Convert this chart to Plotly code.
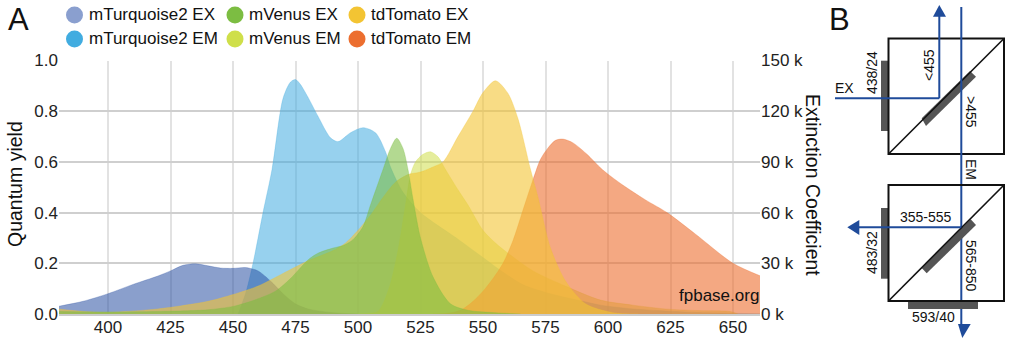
import plotly.graph_objects as go

W, H = 1011, 339
FONT = "Liberation Sans, Arial, sans-serif"

# Emission curves: quantum yield scale
mt2_em_x = [452,455,458,462,465.6,470,473,475,477,480,484,489,492,497,502,507,511,513,518,525,540,549,558,566,575,583,590,597,610,623,635,649,661]
mt2_em_y = [0,0.08,0.2,0.4,0.57,0.85,0.915,0.925,0.905,0.855,0.78,0.695,0.68,0.715,0.735,0.715,0.64,0.58,0.48,0.4,0.295,0.23,0.165,0.115,0.085,0.065,0.05,0.035,0.02,0.012,0.006,0.003,0.001]

venus_em_x = [500,505,508,510,513,516,519,521,523,526,529,532,535,540,544,550,555,560,570,583,597,610,623,635,649,652]
venus_em_y = [0,0.003,0.01,0.04,0.12,0.25,0.43,0.55,0.6,0.63,0.64,0.62,0.57,0.49,0.43,0.33,0.28,0.24,0.17,0.11,0.055,0.035,0.02,0.014,0.01,0]

tomato_em_x = [530,535,538,542,546,550,554,558,562,566,570,573,576,579,582,586,591.6,597.7,605,615,623.6,635,650,661]
tomato_em_y = [0,0.002,0.006,0.02,0.05,0.09,0.14,0.2,0.29,0.41,0.53,0.61,0.655,0.685,0.69,0.675,0.63,0.57,0.515,0.45,0.4,0.315,0.2,0.15]

# Excitation curves: extinction coefficient scale
mt2_ex_x = [380,390,400,410,420,425,430,435,440,445,450,455,460,465,470,475,480,490,500]
mt2_ex_y = [4500,7500,12000,17500,22500,25500,28800,29700,28500,27200,27000,27500,25500,19500,12000,6000,3000,750,0]

venus_ex_x = [380,400,420,440,450,455,460,467,473,480,484,490,494,498,502,505,510,513,515.5,518,520,522,525,530,537,544,555,565]
venus_ex_y = [1500,1200,1500,2500,4500,6500,9000,13500,21000,32000,36000,39000,40500,44000,51750,64500,85500,98000,104000,98000,85500,68000,45000,22000,6000,2200,750,0]

tomato_ex_x = [380,390,400,420,440,450,460,470,480,490,495,500,505,510,515,520,525,530,534,540,546,550,555,560,564,569,572,577,583,591,602,612]
tomato_ex_y = [3000,1500,1000,3000,7500,11500,16500,24000,31500,37500,42000,49500,58500,69000,78000,82500,84000,87000,90000,105000,120000,131000,138000,130500,115500,85500,69000,39000,19500,6000,750,0]

legend_names = ["mTurquoise2 EX","mTurquoise2 EM","mVenus EX","mVenus EM","tdTomato EX","tdTomato EM"]
legend_dots = ["#8a9fcf","#41ace0","#7cbd42","#cfdf4a","#f3c433","#ec6e2f"]
fills = ["rgba(42,80,162,0.55)","rgba(65,172,224,0.55)","rgba(124,189,66,0.58)","rgba(207,223,74,0.55)","rgba(243,196,51,0.6)","rgba(236,110,47,0.6)"]
x_ticks = [400,425,450,475,500,525,550,575,600,625,650]
qy_ticks = [0,0.2,0.4,0.6,0.8,1.0]
ec_ticks = [0,30000,60000,90000,120000,150000]
ec_labels = ["0 k","30 k","60 k","90 k","120 k","150 k"]

fig = go.Figure()

def area(x, y, i, axis):
    fig.add_trace(go.Scatter(x=x, y=y, yaxis=axis, mode="lines", name=legend_names[i],
                             fill="tozeroy", fillcolor=fills[i], showlegend=False, hoverinfo="skip",
                             line=dict(color=fills[i], width=0.5, shape="spline", smoothing=0.8)))

area(mt2_em_x, mt2_em_y, 1, "y")
area(venus_em_x, venus_em_y, 3, "y")
area(tomato_em_x, tomato_em_y, 5, "y")
area(mt2_ex_x, mt2_ex_y, 0, "y2")
area(tomato_ex_x, tomato_ex_y, 4, "y2")
area(venus_ex_x, venus_ex_y, 2, "y2")

def px(x): return x / W
def py(y): return 1 - y / H

shapes, notes = [], []
def text(x, y, s, size=14, angle=0, anchor="center"):
    notes.append(dict(x=px(x), y=py(y), xref="paper", yref="paper", text=s, showarrow=False,
                      textangle=angle, xanchor=anchor, yanchor="middle",
                      font=dict(family=FONT, size=size, color="#111")))
def seg(x0, y0, x1, y1, color="#1f4b9a", w=2):
    shapes.append(dict(type="line", xref="paper", yref="paper", x0=px(x0), y0=py(y0), x1=px(x1), y1=py(y1),
                       line=dict(color=color, width=w), layer="above"))
def rect(x0, y0, x1, y1, fill=None, line=None, w=0):
    shapes.append(dict(type="rect", xref="paper", yref="paper", x0=px(x0), y0=py(y0), x1=px(x1), y1=py(y1),
                       fillcolor=fill or "rgba(0,0,0,0)", line=dict(color=line or "rgba(0,0,0,0)", width=w), layer="above"))
def poly(pts, fill):
    d = "M " + " L ".join(f"{px(a):.5f},{py(b):.5f}" for a, b in pts) + " Z"
    shapes.append(dict(type="path", xref="paper", yref="paper", path=d, fillcolor=fill, line=dict(width=0), layer="above"))

# legend
cols = [(74.5, 86.5), (235, 247), (357, 369)]
rows = [15, 39]
for i, name in enumerate(legend_names):
    dx, tx = cols[i // 2]
    y = rows[i % 2]
    r = 8.5
    shapes.append(dict(type="circle", xref="paper", yref="paper", x0=px(dx-r), x1=px(dx+r), y0=py(y-r), y1=py(y+r),
                       fillcolor=legend_dots[i], line=dict(width=0), layer="above"))
    text(tx, y, name, size=17, anchor="left")

text(6, 19, "A", size=31, anchor="left")
text(827, 19, "B", size=31, anchor="left")
text(761, 295, "fpbase.org", size=17, anchor="right")
text(15, 184, "Quantum yield", 19.5, -90)
text(813, 185, "Extinction Coefficient", 19.5, 90)

DARK = "#555555"
# upper cube
rect(881, 60.7, 888.5, 131, fill=DARK)
poly([(921.7,118.3),(926,126),(976,76.7),(970,71)], DARK)
rect(888.5, 38.5, 1004, 154, line="#111", w=2)
seg(888.5, 154, 1004, 38.5, "#111", 1.6)
seg(835, 98.3, 939.3, 98.3)
seg(939.3, 98.3, 939.3, 15)
poly([(933,16.7),(946,16.7),(939.3,5)], "#1f4b9a")
seg(961.3, 7, 961.3, 326)
text(844, 88, "EX", 14)
text(872, 73, "438/24", 14, -90)
text(929, 65, "&lt;455", 14, -90)
text(971, 112, "&gt;455", 14, 90)
text(971, 169, "EM", 14, 90)
# lower cube
rect(881, 208, 888.5, 278.7, fill=DARK)
poly([(921.7,268),(926.7,273.3),(976,225),(970.7,219.3)], DARK)
rect(908, 301, 978, 309, fill=DARK)
rect(888.5, 185, 1004, 301, line="#111", w=2)
seg(888.5, 301, 1004, 185, "#111", 1.6)
seg(961.3, 227.3, 858, 227.3)
poly([(859.3,220),(859.3,235),(847.3,227.3)], "#1f4b9a")
poly([(958,324),(970.7,324),(962.3,338)], "#1f4b9a")
text(926, 217, "355-555", 14)
text(971, 266, "565-850", 14, 90)
text(872, 253, "483/32", 14, -90)
text(933, 317, "593/40", 14)

tickf = dict(family=FONT, size=17, color="#222")
fig.update_layout(
    width=W, height=H, margin=dict(l=0, r=0, t=0, b=0),
    paper_bgcolor="white", plot_bgcolor="white", showlegend=False,
    shapes=shapes, annotations=notes,
    xaxis=dict(domain=[px(59), px(760)], range=[380.4, 660.8], tickmode="array", tickvals=x_ticks,
               showgrid=True, gridcolor="#e2e2e2", gridwidth=2, zeroline=False, automargin=False,
               showline=True, linecolor="#cccccc", linewidth=2, ticks="", tickfont=tickf, ticklabelstandoff=-3),
    yaxis=dict(domain=[py(314), py(60.5)], range=[0, 1], tickmode="array", tickvals=qy_ticks,
               ticktext=["0.0","0.2","0.4","0.6","0.8","1.0"], showgrid=True, gridcolor="#cfcfcf", gridwidth=2,
               zeroline=False, ticks="", tickfont=tickf, automargin=False),
    yaxis2=dict(domain=[py(314), py(60.5)], range=[0, 150000], overlaying="y", side="right", tickmode="array",
                tickvals=ec_ticks, ticktext=ec_labels, showgrid=False, zeroline=False, ticks="", tickfont=tickf,
                automargin=False),
)
fig.write_html("out.html", config=dict(displayModeBar=False),
               post_script="document.body.style.margin='0';window.dispatchEvent(new Event('resize'));")
